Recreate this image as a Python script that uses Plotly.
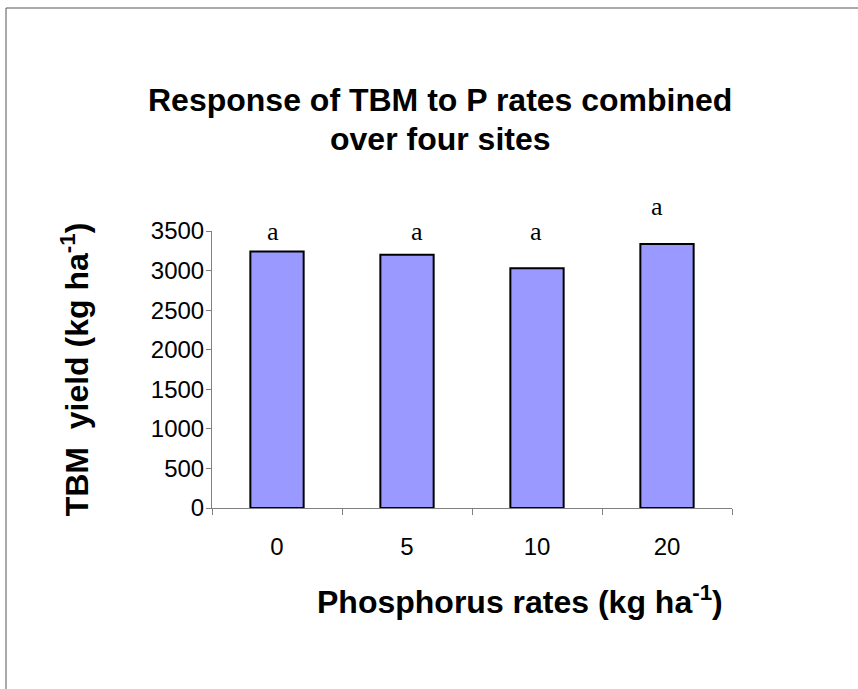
import plotly.graph_objects as go

categories = ["0", "5", "10", "20"]
yield_values = [3240, 3200, 3030, 3335]
letters = ["a", "a", "a", "a"]
letter_y = [3490, 3490, 3490, 3805]
letter_shift = [-4, 10, -1, -10]
y_max = 3500
title_lines = ["Response of TBM to P rates combined", "over four sites"]

W, H = 858, 689
L, R, T, B = 212, 732, 231, 508
pw, ph = R - L, B - T

fig = go.Figure()
fig.add_trace(go.Bar(
    x=categories, y=yield_values,
    marker=dict(color="#9999FF", line=dict(color="black", width=2)),
    width=0.41,
))

for i, (t, yv, s) in enumerate(zip(letters, letter_y, letter_shift)):
    fig.add_annotation(x=i, y=yv / y_max, yref="paper", text=t, showarrow=False, xshift=s,
                       font=dict(family="Liberation Serif, Times New Roman, serif", size=26, color="black"),
                       yanchor="middle")

def px_x(x):
    return (x - L) / pw

def px_y(y):
    return (B - y) / ph

for txt, yy in zip(title_lines, [100, 139]):
    fig.add_annotation(x=px_x(440), y=px_y(yy), xref="paper", yref="paper", showarrow=False,
                       text="<b>" + txt + "</b>", font=dict(size=32, color="black"),
                       xanchor="center", yanchor="middle")

fig.add_annotation(x=px_x(520), y=px_y(600), xref="paper", yref="paper", showarrow=False,
                   text="<b>Phosphorus rates (kg ha<sup>-1</sup>)</b>",
                   font=dict(size=32, color="black"), xanchor="center", yanchor="middle")

line = dict(color="#555555", width=1)
fig.add_shape(type="line", xref="paper", yref="paper", x0=px_x(6), x1=px_x(860), y0=px_y(8), y1=px_y(8), line=line)
fig.add_shape(type="line", xref="paper", yref="paper", x0=px_x(6), x1=px_x(6), y0=px_y(8), y1=px_y(700), line=line)

fig.update_layout(
    width=W, height=H,
    margin=dict(l=L, r=W - R, t=T, b=H - B, pad=0),
    paper_bgcolor="white", plot_bgcolor="white",
    showlegend=False,
    font=dict(family="Liberation Sans, Arial, sans-serif", color="black"),
    xaxis=dict(
        type="category", range=[-0.5, 3.5], tickson="boundaries",
        showline=True, linecolor="#808080", linewidth=1,
        ticks="outside", ticklen=6, tickcolor="#808080",
        tickfont=dict(size=24), showgrid=False, zeroline=False,
        ticklabelstandoff=17,
    ),
    yaxis=dict(
        range=[0, y_max], tickvals=[0, 500, 1000, 1500, 2000, 2500, 3000, 3500],
        showline=True, linecolor="#808080", linewidth=1,
        ticks="outside", ticklen=5, tickcolor="#808080",
        tickfont=dict(size=24), showgrid=False, zeroline=False,
        ticklabelstandoff=-3,
        title=dict(text="<b>TBM  yield (kg ha<sup>-1</sup>)</b>", font=dict(size=32), standoff=52),
    ),
    bargap=0.59,
)

fig.write_html("out.html", config={"displayModeBar": False},
               post_script="document.body.style.margin='0';")
